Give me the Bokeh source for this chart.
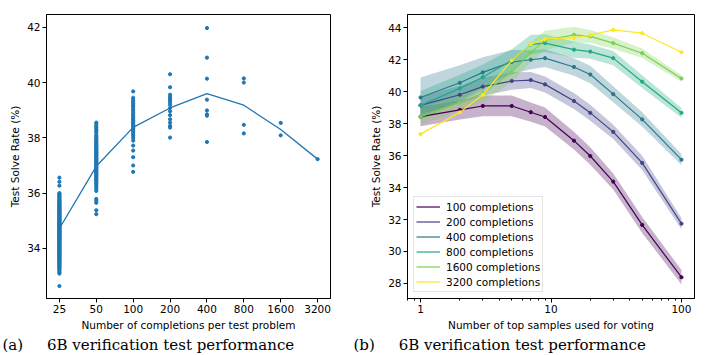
from bokeh.plotting import figure
from bokeh.models import Range1d, FixedTicker, Title, Legend, LegendItem
from bokeh.layouts import row
from bokeh.embed import file_html
from bokeh.resources import INLINE

# ---------------- data: left panel ----------------
completions = [25, 50, 100, 200, 400, 800, 1600, 3200]
completion_labels = ["25", "50", "100", "200", "400", "800", "1600", "3200"]
mean_solve = [34.72, 36.97, 38.38, 39.08, 39.60, 39.18, 38.30, 37.23]

runs_25 = [
    32.64, 33.09, 33.14, 33.19, 33.24, 33.28, 33.31, 33.35, 33.38, 33.41,
    33.44, 33.47, 33.50, 33.52, 33.55, 33.58, 33.60, 33.63, 33.66, 33.68,
    33.71, 33.73, 33.76, 33.78, 33.81, 33.83, 33.86, 33.88, 33.90, 33.93,
    33.95, 33.97, 34.00, 34.02, 34.04, 34.07, 34.09, 34.11, 34.13, 34.16,
    34.18, 34.20, 34.22, 34.25, 34.27, 34.29, 34.31, 34.33, 34.36, 34.38,
    34.40, 34.42, 34.44, 34.47, 34.49, 34.51, 34.53, 34.55, 34.58, 34.60,
    34.62, 34.64, 34.66, 34.69, 34.71, 34.73, 34.75, 34.77, 34.80, 34.82,
    34.84, 34.86, 34.88, 34.91, 34.93, 34.95, 34.97, 35.00, 35.02, 35.04,
    35.06, 35.09, 35.11, 35.13, 35.16, 35.18, 35.20, 35.23, 35.25, 35.28,
    35.30, 35.32, 35.35, 35.37, 35.40, 35.42, 35.45, 35.48, 35.50, 35.53,
    35.56, 35.58, 35.61, 35.64, 35.67, 35.70, 35.73, 35.76, 35.80, 35.83,
    35.87, 35.90, 35.94, 35.97, 36.00, 36.27, 36.41, 36.56,
]
runs_50 = [
    35.24, 35.38, 35.65, 35.72, 35.79, 36.08, 36.15, 36.22, 36.28, 36.33,
    36.38, 36.43, 36.48, 36.52, 36.56, 36.60, 36.64, 36.68, 36.72, 36.76,
    36.80, 36.84, 36.88, 36.92, 36.95, 36.98, 37.02, 37.05, 37.08, 37.12,
    37.15, 37.18, 37.22, 37.25, 37.28, 37.31, 37.35, 37.38, 37.41, 37.44,
    37.47, 37.50, 37.53, 37.56, 37.60, 37.63, 37.66, 37.70, 37.74, 37.78,
    37.82, 37.86, 37.90, 37.95, 38.00, 38.05, 38.10, 38.19, 38.25, 38.31,
    38.37, 38.43, 38.50, 38.55,
]
runs_100 = [
    36.77, 37.00, 37.30, 37.54, 37.72, 37.90, 38.00, 38.08, 38.15, 38.22,
    38.28, 38.33, 38.38, 38.43, 38.48, 38.53, 38.58, 38.63, 38.68, 38.73,
    38.79, 38.85, 38.91, 38.98, 39.05, 39.12, 39.18, 39.24, 39.30, 39.37,
    39.45, 39.68,
]
runs_200 = [38.01, 38.37, 38.43, 38.55, 38.67, 38.82, 38.96, 39.08,
            39.20, 39.28, 39.35, 39.41, 39.47, 39.56, 39.83, 40.30]
runs_400 = [37.85, 38.80, 38.85, 38.99, 39.38, 40.14, 40.90, 41.97]
runs_800 = [38.16, 38.47, 40.00, 40.15]
runs_1600 = [38.09, 38.54]
runs_3200 = [37.23]
runs = [runs_25, runs_50, runs_100, runs_200, runs_400, runs_800, runs_1600, runs_3200]

# ---------------- data: right panel ----------------
top_k = [1, 2, 3, 5, 7, 9, 15, 20, 30, 50, 100]
series_names = ["100 completions", "200 completions", "400 completions",
                "800 completions", "1600 completions", "3200 completions"]
series_colors = ["#440154", "#414487", "#2a788e", "#22a884", "#7ad151", "#fde725"]
rate_100 = [38.43, 38.86, 39.10, 39.10, 38.71, 38.41, 36.93, 35.97, 34.37, 31.66, 28.39]
rate_200 = [39.14, 39.80, 40.31, 40.66, 40.72, 40.45, 39.41, 38.67, 37.48, 35.54, 31.74]
rate_400 = [39.63, 40.55, 41.20, 41.85, 41.99, 42.09, 41.54, 41.07, 39.84, 38.26, 35.74]
rate_800 = [39.14, 40.20, 40.90, 41.95, 42.95, 43.03, 42.62, 42.50, 42.09, 40.62, 38.67]
rate_1600 = [38.43, 39.30, 39.90, 41.20, 42.45, 43.20, 43.55, 43.45, 43.03, 42.40, 40.82]
rate_3200 = [37.34, 38.70, 39.80, 41.95, 42.97, 43.28, 43.38, 43.53, 43.86, 43.65, 42.46]
spread_100 = [0.60, 0.60, 0.65, 0.65, 0.60, 0.60, 0.55, 0.55, 0.50, 0.50, 0.45]
spread_200 = [0.55, 0.55, 0.55, 0.55, 0.50, 0.50, 0.50, 0.50, 0.45, 0.45, 0.35]
spread_400 = [1.25, 1.10, 0.95, 0.75, 0.60, 0.55, 0.55, 0.55, 0.50, 0.45, 0.35]
spread_800 = [0.90, 0.85, 0.80, 0.70, 0.60, 0.55, 0.50, 0.45, 0.45, 0.40, 0.30]
spread_1600 = [0.50, 0.50, 0.55, 0.60, 0.60, 0.60, 0.50, 0.40, 0.35, 0.30, 0.20]
spread_3200 = [0.0, 0.0, 0.0, 0.0, 0.0, 0.0, 0.0, 0.0, 0.0, 0.0, 0.0]
rates = [rate_100, rate_200, rate_400, rate_800, rate_1600, rate_3200]
spreads = [spread_100, spread_200, spread_400, spread_800, spread_1600, spread_3200]

left_yticks = [34, 36, 38, 40, 42]
right_yticks = [28, 30, 32, 34, 36, 38, 40, 42, 44]
right_xticks = [1, 10, 100]
right_xminor = [0.8, 0.9, 2, 3, 4, 5, 6, 7, 8, 9, 20, 30, 40, 50, 60, 70, 80, 90]
NB = "\u00a0"
caption_a = "(a)" + NB * 5 + "6B verification test performance"
caption_b = "(b)" + NB * 5 + "6B verification test performance"

FONT = "DejaVu Sans"
TICK_SIZE = "10.5px"
LABEL_SIZE = "10.5px"
BLUE = "#1f77b4"
FIG_H = 353


def style(p):
    p.outline_line_color = "black"
    p.outline_line_alpha = 1
    p.outline_line_width = 1
    p.grid.visible = False
    p.background_fill_color = "white"
    p.border_fill_color = "white"
    for ax in p.axis:
        ax.axis_line_color = "black"
        ax.major_tick_line_color = "black"
        ax.minor_tick_line_color = "black"
        ax.major_tick_out = 4
        ax.major_tick_in = 0
        ax.minor_tick_out = 2
        ax.minor_tick_in = 0
        ax.major_label_text_font = FONT
        ax.major_label_text_font_size = TICK_SIZE
        ax.major_label_text_color = "black"
        ax.axis_label_text_font = FONT
        ax.axis_label_text_font_size = LABEL_SIZE
        ax.axis_label_text_font_style = "normal"
        ax.axis_label_text_color = "black"
        ax.major_label_standoff = 2
        ax.axis_label_standoff = 3


def caption(p, text, offset):
    p.add_layout(Title(text=text, align="left", offset=offset,
                       text_font="DejaVu Serif", text_font_size="15px",
                       text_font_style="normal", text_color="black",
                       standoff=0), "below")


# ---------------- left figure ----------------
lx0 = completions[0] / 2 ** 0.35
lx1 = completions[-1] * 2 ** 0.35
left = figure(width=344, height=FIG_H, x_axis_type="log",
              x_range=Range1d(lx0, lx1), y_range=Range1d(32.19, 42.46),
              output_backend="svg", toolbar_location=None,
              min_border_left=46, min_border_right=14,
              min_border_top=14, min_border_bottom=50)
xs, ys = [], []
for c, r in zip(completions, runs):
    xs.extend([c] * len(r))
    ys.extend(r)
left.line(completions, mean_solve, line_color=BLUE, line_width=1.3)
left.scatter(xs, ys, size=3.2, fill_color=BLUE, line_color=BLUE)
left.xaxis.ticker = FixedTicker(ticks=completions, minor_ticks=[])
left.xaxis.major_label_overrides = {c: l for c, l in zip(completions, completion_labels)}
left.yaxis.ticker = FixedTicker(ticks=left_yticks, minor_ticks=[])
left.xaxis.axis_label = "Number of completions per test problem"
left.yaxis.axis_label = "Test Solve Rate (%)"
style(left)
caption(left, caption_a, -44)

# ---------------- right figure ----------------
right = figure(width=360, height=FIG_H, x_axis_type="log",
               x_range=Range1d(10 ** -0.1, 10 ** 2.1), y_range=Range1d(27.06, 44.82),
               output_backend="svg", toolbar_location=None,
               min_border_left=63, min_border_right=10,
               min_border_top=14, min_border_bottom=50)
for color, rate, sp in zip(series_colors, rates, spreads):
    lo = [v - s for v, s in zip(rate, sp)]
    hi = [v + s for v, s in zip(rate, sp)]
    right.varea(x=top_k, y1=lo, y2=hi, fill_color=color, fill_alpha=0.3)
items = []
for name, color, rate in zip(series_names, series_colors, rates):
    ln = right.line(top_k, rate, line_color=color, line_width=1.2)
    right.scatter(top_k, rate, size=3.2, fill_color=color, line_color=color)
    items.append(LegendItem(label=name, renderers=[ln]))
right.xaxis.ticker = FixedTicker(ticks=right_xticks, minor_ticks=right_xminor)
right.xaxis.major_label_overrides = {1: "1", 10: "10", 100: "100"}
right.yaxis.ticker = FixedTicker(ticks=right_yticks, minor_ticks=[])
right.xaxis.axis_label = "Number of top samples used for voting"
right.yaxis.axis_label = "Test Solve Rate (%)"
style(right)
lg = Legend(items=items, location="bottom_left")
lg.margin = 6
lg.padding = 2
lg.spacing = 0
lg.glyph_width = 24
lg.glyph_height = 15
lg.label_height = 15
lg.label_standoff = 6
lg.label_text_font = FONT
lg.label_text_font_size = "10.5px"
lg.label_text_color = "black"
lg.border_line_color = "#cccccc"
lg.border_line_width = 1
lg.background_fill_alpha = 0.85
right.add_layout(lg, "center")
caption(right, caption_b, -54)

layout = row(left, right)
open("out.html", "w").write(file_html(layout, INLINE))
